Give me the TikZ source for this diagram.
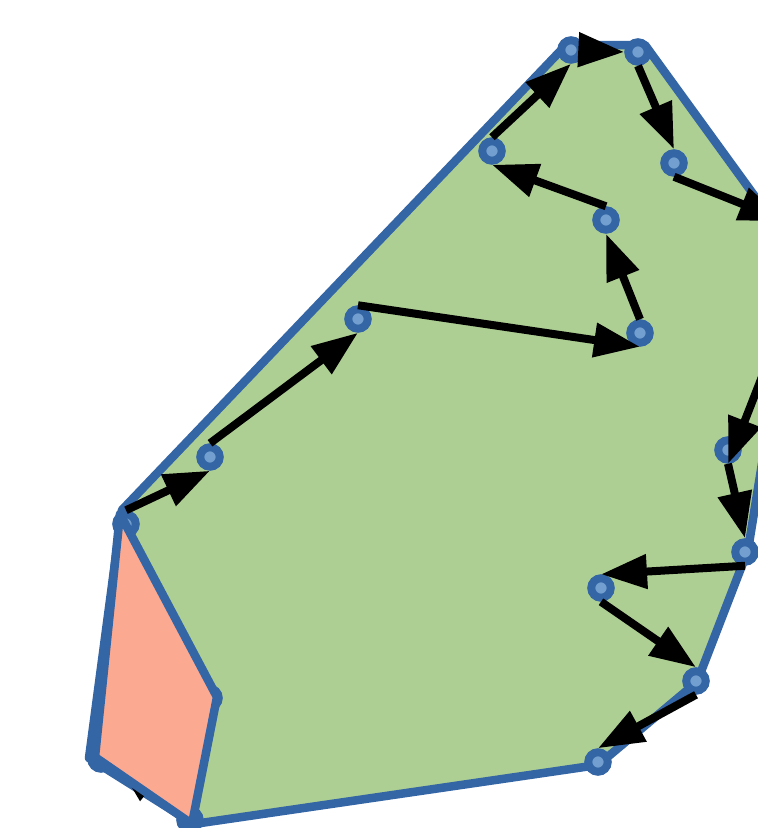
\documentclass[tikz,border=0pt]{standalone}
\usetikzlibrary{arrows.meta}
\definecolor{fillgreen}{HTML}{AECF94}
\definecolor{edgeblue}{HTML}{3465A4}
\definecolor{dotblue}{HTML}{729FCF}
\definecolor{salmonfill}{HTML}{FCA992}
\begin{document}
\begin{tikzpicture}[x=1pt,y=-1pt,
  pt/.style={circle,draw=edgeblue,fill=dotblue,line width=8pt,minimum size=19.5pt,inner sep=0pt},
  hull/.style={draw=edgeblue,line width=8.5pt,line join=round},
  arr/.style={line width=8pt,-{Triangle[length=46pt,width=33pt]}}]
\useasboundingbox (0,0) rectangle (758,828);
\fill[white] (0,0) rectangle (758,828);
\clip (0,0) rectangle (758,828);
% green hull
\draw[hull,fill=fillgreen] (122,510) -- (566,45) -- (645,45) -- (796,253) -- (748,550)
  -- (697,682) -- (598,765) -- (194,824) -- (89,758) -- cycle;
% nodes
\node[pt] (A) at (571,50) {};
\node[pt] (B) at (638,52) {};
\node[pt] (C) at (674,163) {};
\node[pt] (D) at (492,151) {};
\node[pt] (E) at (606,220) {};
\node[pt] (F) at (640,333) {};
\node[pt] (G) at (358,319) {};
\node[pt] (H) at (210,457) {};
\node[pt] (J) at (728,450) {};
\node[pt] (K) at (745,552) {};
\node[pt] (L) at (601,588) {};
\node[pt] (M) at (696,681) {};
\node[pt] (N) at (598,762) {};
\node[pt] (I) at (126,524) {};
\node[pt] (O) at (209,698) {};
\node[pt] (P) at (101,759) {};
\node[pt] (Q) at (190,820) {};
\coordinate (x1) at (785,221);
\coordinate (x2) at (790,305);
% arrows
\draw[arr] (I.north) -- (H.south);
\draw[arr] (H.north) -- (G.south);
\draw[arr] (G.north) -- (F.south);
\draw[arr] (F.north) -- (E.south);
\draw[arr] (E.north) -- (D.south);
\draw[arr] (D.north) -- (A.south);
\draw[arr] (A.east) -- (B.west);
\draw[arr] (B.south) -- (C.north);
\draw[arr] (C.south) -- (x1);
\draw[arr] (x2) -- (J.south);
\draw[arr] (J.south) -- (K.north);
\draw[arr] (K.south) -- (L.north);
\draw[arr] (L.south) -- (M.north);
\draw[arr] (M.south) -- (N.north);
\draw[arr] (Q.north west) -- (P.east);
% salmon region
\draw[hull,fill=salmonfill] (120,514) -- (217,697) -- (192,824) -- (95,757) -- cycle;
\end{tikzpicture}
\end{document}
